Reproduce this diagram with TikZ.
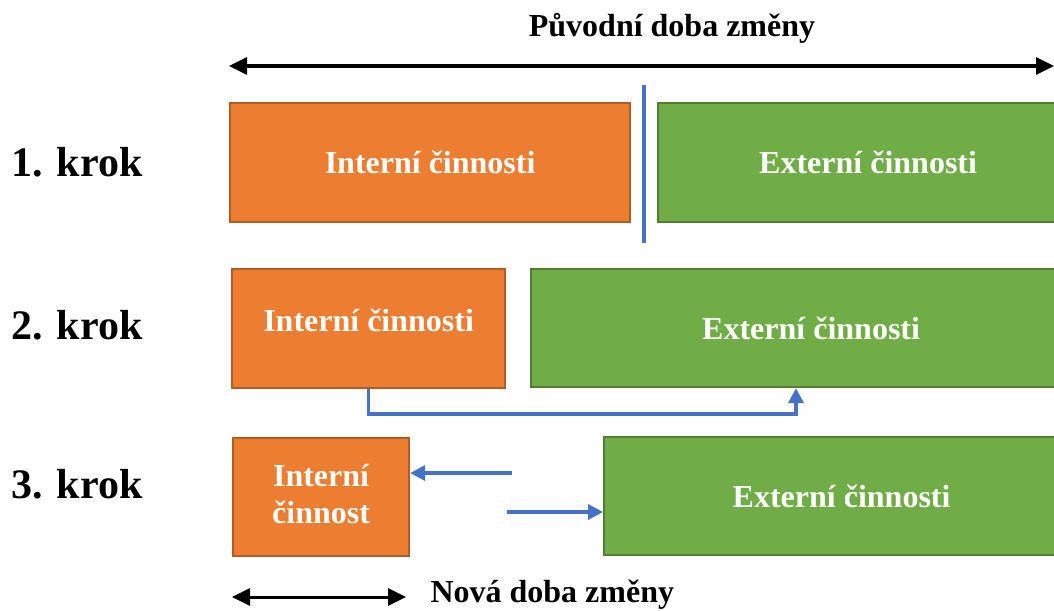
\documentclass[tikz,border=0pt]{standalone}
\usepackage{fontspec}
\setmainfont{Liberation Serif}
\usetikzlibrary{arrows.meta}
\definecolor{orfill}{HTML}{ED7D31}
\definecolor{ordraw}{HTML}{B05E25}
\definecolor{grfill}{HTML}{70AD47}
\definecolor{grdraw}{HTML}{507E32}
\definecolor{link}{HTML}{4472C4}
\tikzset{
  boxtext/.style={font=\fontsize{32}{37}\selectfont\bfseries, text=white, align=center, inner sep=0pt},
  obox/.style={boxtext, fill=orfill, draw=ordraw, line width=2.2pt, anchor=north west},
  gbox/.style={boxtext, fill=grfill, draw=grdraw, line width=2.2pt, anchor=north west},
  steplabel/.style={font=\fontsize{42}{48}\selectfont\bfseries},
  caption/.style={font=\fontsize{32}{37}\selectfont\bfseries},
  span/.style={line width=3pt, {Triangle[length=18pt,width=17pt]}-{Triangle[length=18pt,width=17pt]}},
  move/.style={draw=link, line width=3.4pt, -{Triangle[length=15pt,width=15pt]}, color=link},
}
\begin{document}
\begin{tikzpicture}[x=1pt, y=-1pt]
  \useasboundingbox (0,0) rectangle (1054,610);
  \clip (0,0) rectangle (1054,610);

  % original changeover time
  \node[caption] (title) at (672,28) {Původní doba změny};
  \coordinate (tl) at (229,66);
  \coordinate (tr) at (1054,66);
  \draw[span] (tl) -- (tr);

  % step labels
  \node[steplabel] (s1) at (77,162) {1. krok};
  \node[steplabel] (s2) at (77,325) {2. krok};
  \node[steplabel] (s3) at (77,484) {3. krok};

  % step 1
  \node[obox, minimum width=400pt, minimum height=119pt] (o1) at (229,102) {Interní činnosti};
  \node[gbox, minimum width=420pt, minimum height=119pt] (g1) at (657,102) {Externí činnosti};
  \coordinate (sepT) at (644,85);
  \coordinate (sepB) at (644,243);
  \draw[link, line width=3.4pt] (sepT) -- (sepB);

  % step 2
  \node[obox, minimum width=273pt, minimum height=119pt, text depth=16pt] (o2) at (231,268) {Interní činnosti};
  \node[gbox, minimum width=560pt, minimum height=118pt] (g2) at (530,268) {Externí činnosti};
  \coordinate (c2) at (796,414);
  \draw[move] (o2.south) |- (c2) -- (c2 |- g2.south);

  % step 3
  \node[obox, minimum width=176pt, minimum height=118pt, text depth=6pt] (o3) at (232,437) {Interní\\činnost};
  \node[gbox, minimum width=475pt, minimum height=118pt] (g3) at (603,436) {Externí činnosti};
  \coordinate (a3) at (512,473);
  \coordinate (b3) at (507,512);
  \draw[move] (a3) -- (a3 -| o3.east);
  \draw[move] (b3) -- (b3 -| g3.west);

  % new changeover time
  \coordinate (nl) at (232,597);
  \coordinate (nr) at (406,597);
  \draw[span] (nl) -- (nr);
  \node[caption, anchor=west] (new) at (427,595) {Nová doba změny};
\end{tikzpicture}
\end{document}
